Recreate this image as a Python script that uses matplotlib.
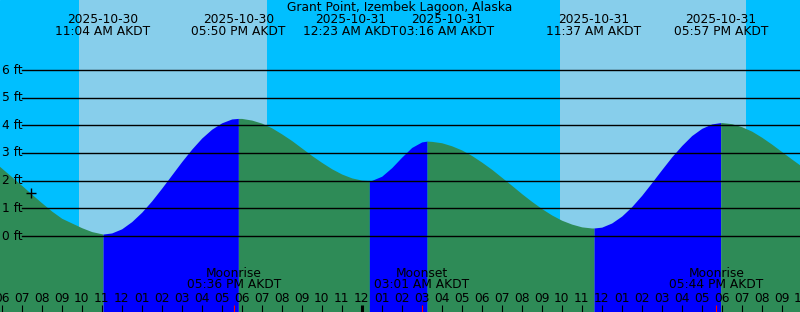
import matplotlib
matplotlib.use("Agg")
import matplotlib.pyplot as plt
from matplotlib.transforms import blended_transform_factory
import pandas as pd

# reference time for the x axis (hours from here)
start = pd.Timestamp("2025-10-30 06:00")

# half-hourly tide heights (ft), 05:00 Oct 30 .. 22:00 Oct 31
curve_times = pd.date_range("2025-10-30 05:00", "2025-10-31 22:00", freq="30min")
curve_heights = [3.05, 2.76, 2.45, 2.14, 1.83, 1.51, 1.20, 0.90, 0.64, 0.47,
                 0.30, 0.16, 0.08, 0.11, 0.26, 0.52, 0.86, 1.27, 1.73, 2.21,
                 2.69, 3.14, 3.54, 3.86, 4.09, 4.23, 4.25, 4.19, 4.08, 3.91,
                 3.69, 3.45, 3.18, 2.91, 2.66, 2.43, 2.24, 2.10, 2.02, 2.01,
                 2.16, 2.47, 2.85, 3.20, 3.40, 3.42, 3.37, 3.26, 3.11, 2.91,
                 2.67, 2.41, 2.12, 1.83, 1.53, 1.25, 0.99, 0.76, 0.57, 0.43,
                 0.33, 0.29, 0.32, 0.47, 0.72, 1.06, 1.47, 1.93, 2.40, 2.86,
                 3.27, 3.63, 3.89, 4.05, 4.10, 4.06, 3.95, 3.79, 3.57, 3.32,
                 3.05, 2.78, 2.52]

# high / low tides
tide_times = ["2025-10-30 11:04", "2025-10-30 17:50", "2025-10-31 00:23",
              "2025-10-31 03:16", "2025-10-31 11:37", "2025-10-31 17:57"]
tide_labels = ["11:04 AM AKDT", "05:50 PM AKDT", "12:23 AM AKDT",
               "03:16 AM AKDT", "11:37 AM AKDT", "05:57 PM AKDT"]
tide_heights = [0.07, 4.25, 2.00, 3.43, 0.29, 4.10]
tide_kind = ["low", "high", "low", "high", "low", "high"]

# daylight (sunrise, sunset)
sunrise = ["2025-10-30 09:52", "2025-10-31 09:55"]
sunset = ["2025-10-30 19:16", "2025-10-31 19:13"]

# moon events
moon_times = ["2025-10-30 17:36", "2025-10-31 03:01", "2025-10-31 17:44"]
moon_names = ["Moonrise", "Moonset", "Moonrise"]
moon_labels = ["05:36 PM AKDT", "03:01 AM AKDT", "05:44 PM AKDT"]

# current time marker
now_time = "2025-10-30 07:27"
now_height = 1.54

title = "Grant Point, Izembek Lagoon, Alaska"
ft_levels = [0, 1, 2, 3, 4, 5, 6]


def hrs(t):
    return (pd.Timestamp(t) - start) / pd.Timedelta(hours=1)


W, H = 800, 312
PX_H = 20.0          # pixels per hour
PX_FT = 166 / 6.0    # pixels per foot
X0 = 1.7             # pixel of 06:00
Y0 = 236             # pixel of 0 ft
FS = 8.8

fig = plt.figure(figsize=(W / 100, H / 100), dpi=100)
ax = fig.add_axes([0, 0, 1, 1])
ax.set_xlim(-X0 / PX_H, (W - X0) / PX_H)
ax.set_ylim(-(H - Y0) / PX_FT, Y0 / PX_FT)
ax.axis("off")
ax.add_patch(plt.Rectangle((0, 0), 1, 1, transform=ax.transAxes,
                           color="#00BFFF", zorder=0))
bottom = ax.get_ylim()[0]

for a, b in zip(sunrise, sunset):
    ax.axvspan(hrs(a), hrs(b), color="#87CEEB", lw=0, zorder=1)

# build the curve: half-hourly readings plus the extremes
pts = sorted(list(zip([hrs(t) for t in curve_times], curve_heights)) +
             list(zip([hrs(t) for t in tide_times], tide_heights)))
tx = [p[0] for p in pts]
ty = [p[1] for p in pts]

# segment edges: rising (low -> high) blue, falling green
edges = [tx[0]] + [hrs(t) for t in tide_times] + [tx[-1]]
rising = [tide_kind[0] == "high"] + [k == "low" for k in tide_kind]
for (e0, e1), up in zip(zip(edges[:-1], edges[1:]), rising):
    sx = [x for x in tx if e0 <= x <= e1]
    sy = [y for x, y in zip(tx, ty) if e0 <= x <= e1]
    ax.fill_between(sx, sy, bottom, color="#0000FF" if up else "#2E8B57",
                    lw=0, zorder=2)

# height lines and labels
yl = blended_transform_factory(ax.transAxes, ax.transData)
for lv in ft_levels:
    ax.axhline(lv, xmin=22 / W, xmax=1, color="black", lw=1.0, zorder=3)
    ax.text(2 / W, lv, f"{lv} ft", transform=yl, ha="left", va="center",
            fontsize=FS, zorder=4)

ax.plot(hrs(now_time), now_height, marker="+", color="black", ms=7,
        mew=1.0, zorder=4)

# top labels for tides, pushed apart when they would overlap
lab_x = [hrs(t) for t in tide_times]
min_gap = 4.8
for i in range(len(lab_x) - 1):
    gap = lab_x[i + 1] - lab_x[i]
    if gap < min_gap:
        lab_x[i] -= (min_gap - gap) / 2
        lab_x[i + 1] += (min_gap - gap) / 2
xt = blended_transform_factory(ax.transData, ax.transAxes)
for x, t, lab in zip(lab_x, tide_times, tide_labels):
    ax.text(x, 1 - 19.5 / H, t[:10], transform=xt, ha="center", va="center",
            fontsize=FS, zorder=5)
    ax.text(x, 1 - 31.5 / H, lab, transform=xt, ha="center", va="center",
            fontsize=FS, zorder=5)
ax.text(0.5, 1 - 7.5 / H, title, transform=ax.transAxes, ha="center",
        va="center", fontsize=FS, zorder=5)

# hour ticks
tick_times = pd.date_range(start, "2025-10-31 22:00", freq="h")
for t in tick_times:
    x = hrs(t)
    thick = t.hour == 0
    ax.plot([x, x], [0, 7 / H], transform=xt, color="black",
            lw=2.2 if thick else 0.8, zorder=5, solid_capstyle="butt")
    ax.text(x, 14 / H, t.strftime("%I"), transform=xt, ha="center",
            va="center", fontsize=FS, zorder=5)

# moon events
for t, name, lab in zip(moon_times, moon_names, moon_labels):
    x = hrs(t)
    ax.plot([x, x], [0, 7 / H], transform=xt, color="red", lw=0.8,
            zorder=6, solid_capstyle="butt")
    ax.text(x, 1 - 273.5 / H, name, transform=xt, ha="center", va="center",
            fontsize=FS, zorder=5)
    ax.text(x, 1 - 285 / H, lab, transform=xt, ha="center", va="center",
            fontsize=FS, zorder=5)

fig.savefig("out.png", dpi=100)
